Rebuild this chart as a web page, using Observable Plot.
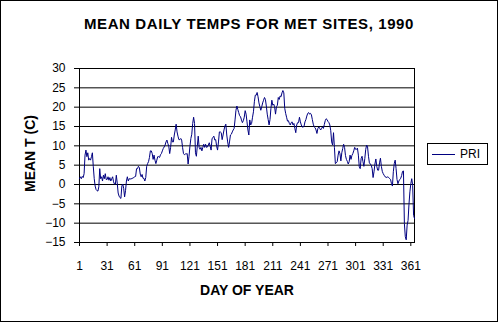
<!DOCTYPE html>
<html>
<head>
<meta charset="utf-8">
<script src="https://cdn.jsdelivr.net/npm/d3@7"></script>
<script src="https://cdn.jsdelivr.net/npm/@observablehq/plot@0.6"></script>
<style>
  html, body { margin: 0; padding: 0; background: #fff; }
  #chart { position: relative; width: 498px; height: 322px; overflow: hidden; font-family: Arial, "Liberation Sans", sans-serif; color: #000; }
  #chart svg { position: absolute; left: 0; top: 0; }
  #border { position: absolute; left: 0; top: 0; width: 498px; height: 322px; box-sizing: border-box; border: 1px solid #000; pointer-events: none; }
  #title { position: absolute; left: 0; top: 16px; width: 498px; text-align: center; font: bold 15px/15px Arial, "Liberation Sans", sans-serif; letter-spacing: 0.6px; white-space: nowrap; }
  #legend { position: absolute; left: 427px; top: 143px; width: 61px; height: 22px; box-sizing: border-box; border: 1px solid #000; background: #fff; }
  #legend .swatch { position: absolute; left: 4px; top: 10px; width: 23px; height: 1px; background: #000080; }
  #legend .lab { position: absolute; left: 32px; top: 4px; font: 12px/12px Arial, "Liberation Sans", sans-serif; }
</style>
</head>
<body>
<div id="chart">
  <div id="title"></div>
  <div id="legend"><div class="swatch"></div><span class="lab"></span></div>
  <div id="border"></div>
</div>
<script>
// ---- data ----
const chartTitle = "MEAN DAILY TEMPS FOR MET SITES, 1990";
const xLabel = "DAY OF YEAR";
const yLabel = "MEAN T (C)";
const seriesName = "PRI";

const xTicks = [1, 31, 61, 91, 121, 151, 181, 211, 241, 271, 301, 331, 361];
const yTicks = [-15, -10, -5, 0, 5, 10, 15, 20, 25, 30];

// daily mean temperature, days 1-88
const tempsDays1to88 = [
  1.5, 2.0, 1.5, 2.1, 1.8, 2.8, 7.6, 8.9, 7.2, 8.2,
  6.3, 6.7, 6.3, 7.2, 8.2, 4.6, 1.5, -0.4, -1.3, -1.6,
  -1.7, -0.6, 4.1, 1.5, 2.0, 0.9, 2.4, 1.5, 2.8, 1.3,
  1.3, 2.0, 1.1, 1.8, 0.9, 1.5, 2.0, 0.7, 0.1, 0.1,
  2.4, 0.4, -2.2, -3.0, -3.4, -3.6, -0.4, 0.1, -1.0, -3.2,
  -1.6, 0.9, 2.0, 0.9, 1.5, 1.4, 1.5, 1.5, 1.7, 1.8,
  2.0, 2.1, 4.1, 4.1, 4.7, 4.4, 2.7, 2.0, 2.6, 1.6,
  1.6, 0.9, 1.8, 4.7, 5.4, 5.9, 7.0, 8.7, 8.7, 8.0,
  6.5, 7.6, 6.3, 5.4, 6.3, 7.2, 7.2, 7.0
];
// days 89-174
const tempsDays89to174 = [
  7.7, 8.0, 8.7, 9.3, 9.7, 10.2, 11.0, 11.5, 10.6, 9.9,
  8.0, 9.6, 12.2, 11.0, 11.0, 12.8, 14.1, 15.6, 13.6, 12.5,
  11.6, 11.6, 11.9, 11.5, 9.6, 8.0, 7.7, 7.9, 7.9, 8.0,
  5.3, 7.3, 9.9, 11.9, 13.0, 15.8, 17.4, 15.8, 8.2, 7.3,
  9.9, 12.5, 9.6, 9.1, 9.6, 8.7, 9.6, 10.4, 9.6, 10.4,
  9.6, 9.7, 10.2, 10.8, 9.9, 8.9, 11.8, 12.2, 12.5, 11.5,
  11.6, 9.9, 8.9, 11.0, 13.6, 13.6, 13.4, 11.6, 12.8, 14.1,
  15.1, 15.6, 12.8, 11.0, 9.6, 11.0, 12.8, 13.0, 13.6, 14.1,
  14.5, 16.7, 19.2, 20.3, 19.4, 18.6
];
// days 175-261
const tempsDays175to261 = [
  17.8, 17.5, 16.7, 16.0, 16.5, 17.4, 19.1, 18.2, 16.2, 14.1,
  12.8, 16.7, 15.4, 15.8, 17.4, 18.8, 21.4, 23.1, 23.1, 23.8,
  22.7, 21.1, 20.1, 19.2, 20.1, 21.1, 21.8, 22.5, 22.0, 20.3,
  18.2, 16.8, 15.4, 16.8, 19.7, 21.8, 20.5, 20.8, 20.1, 18.2,
  20.1, 20.5, 22.5, 22.0, 22.9, 22.7, 23.7, 24.3, 23.7, 19.7,
  18.4, 17.4, 16.4, 16.5, 15.8, 15.4, 16.0, 16.2, 15.4, 15.8,
  14.5, 13.4, 15.4, 16.0, 16.0, 17.4, 16.2, 15.4, 14.9, 14.8,
  15.1, 16.2, 16.8, 17.7, 18.4, 18.6, 18.2, 18.4, 18.0, 16.8,
  15.6, 14.9, 14.7, 14.1, 13.2, 14.5, 14.9
];
// days 262-365
const tempsDays262to365 = [
  14.5, 14.1, 14.5, 14.9, 14.5, 15.5, 16.5, 17.0, 16.8, 16.3,
  16.0, 15.4, 13.9, 11.0, 10.2, 13.4, 9.6, 5.4, 5.6, 5.9,
  7.6, 8.7, 8.0, 6.1, 8.2, 9.3, 10.4, 9.6, 7.5, 6.5,
  6.0, 5.3, 5.9, 7.6, 6.5, 7.5, 8.0, 8.7, 9.6, 9.1,
  9.1, 9.4, 7.6, 4.6, 4.1, 6.7, 7.3, 5.9, 4.7, 6.7,
  9.1, 10.2, 9.7, 7.3, 5.6, 5.3, 5.0, 4.1, 1.8, 3.3,
  5.3, 6.6, 4.7, 3.7, 3.7, 5.6, 6.8, 4.7, 3.4, 2.8,
  2.4, 2.0, 1.9, 1.8, 2.0, 1.8, 1.5, 1.3, 0.2, -0.4,
  3.3, 5.4, 6.3, 4.1, 1.3, 0.2, 0.9, 1.3, 1.6, 2.3,
  3.4, 3.5, -10.1, -13.5, -14.3, -10.5, -9.3, -5.1, -1.9, 0.2,
  1.5, -0.2, -8.0, -8.8
];

const temps = [...tempsDays1to88, ...tempsDays89to174, ...tempsDays175to261, ...tempsDays262to365];
const rows = temps.map((t, i) => ({day: i + 1, temp: t}));

document.getElementById("title").textContent = chartTitle;
document.querySelector("#legend .lab").textContent = seriesName;

const font = 'Arial, "Liberation Sans", sans-serif';

const chart = Plot.plot({
  width: 498,
  height: 322,
  marginLeft: 79,
  marginRight: 84,
  marginTop: 68,
  marginBottom: 80,
  style: {fontFamily: font, fontSize: "12px", color: "#000", background: "transparent", overflow: "visible"},
  x: {domain: [1, 365]},
  y: {domain: [-15, 30]},
  marks: [
    Plot.gridY(yTicks, {stroke: "#000", strokeOpacity: 1}),
    Plot.frame({stroke: "#000"}),
    Plot.axisY(yTicks, {tickSize: 5, tickPadding: 9, label: null, fontSize: 12}),
    Plot.axisX(xTicks, {tickSize: 4, tickPadding: 15, label: null, fontSize: 12}),
    Plot.line(rows, {x: "day", y: "temp", stroke: "#000080", strokeWidth: 1}),
    Plot.text([xLabel], {text: d => d, frameAnchor: "bottom", textAnchor: "middle", lineAnchor: "top", dy: 43, fontWeight: "bold", fontSize: 14}),
    Plot.text([yLabel], {text: d => d, frameAnchor: "left", textAnchor: "middle", lineAnchor: "top", rotate: -90, dx: -54, dy: -2, fontWeight: "bold", fontSize: 14})
  ]
});
document.getElementById("chart").insertBefore(chart, document.getElementById("title"));
</script>
</body>
</html>
